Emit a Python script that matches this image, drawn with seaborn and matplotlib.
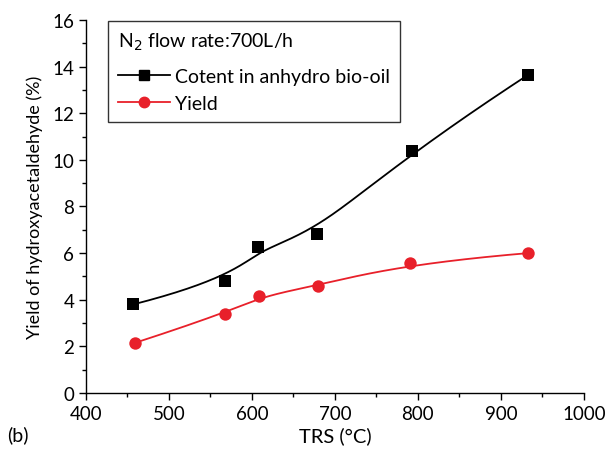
import numpy as np
import pandas as pd
import matplotlib
matplotlib.use("Agg")
import matplotlib.pyplot as plt
from matplotlib.lines import Line2D
from matplotlib.ticker import MultipleLocator
import seaborn as sns

# Data
trs_content = [457, 567, 607, 678, 793, 933]
content = [3.8, 4.8, 6.25, 6.8, 10.4, 13.65]
trs_yield = [459, 567, 608, 680, 790, 933]
yield_vals = [2.15, 3.4, 4.15, 4.6, 5.57, 6.0]

series_names = ["Cotent in anhydro bio-oil", "Yield"]
legend_title = "N$_2$ flow rate:700L/h"
xticks = [400, 500, 600, 700, 800, 900, 1000]
yticks = [0, 2, 4, 6, 8, 10, 12, 14, 16]


def bspline(xs, ys, n=300, k=3):
    """Clamped B-spline with data points as control points (Origin-style B-spline line)."""
    P = np.column_stack([xs, ys]).astype(float)
    m = len(P)
    k = min(k, m - 1)
    inner = np.linspace(0, 1, m - k + 1)
    knots = np.concatenate([[0] * k, inner, [1] * k])
    ts = np.linspace(0, 1, n)
    out = []
    for t in ts:
        if t >= 1:
            out.append(P[-1]); continue
        N = np.array([1.0 if knots[i] <= t < knots[i + 1] else 0.0 for i in range(len(knots) - 1)])
        for d in range(1, k + 1):
            Nn = np.zeros(len(knots) - 1 - d)
            for i in range(len(Nn)):
                a = 0.0
                den1 = knots[i + d] - knots[i]
                den2 = knots[i + d + 1] - knots[i + 1]
                if den1 > 0:
                    a += (t - knots[i]) / den1 * N[i]
                if den2 > 0:
                    a += (knots[i + d + 1] - t) / den2 * N[i + 1]
                Nn[i] = a
            N = Nn
        out.append(N @ P)
    out = np.array(out)
    return out[:, 0], out[:, 1]


plt.rcParams['font.family'] = ['Lato', 'DejaVu Sans']
fig = plt.figure(figsize=(6.12, 4.56), dpi=100)
ax = fig.add_axes([0.1405, 0.136, 0.8135, 0.818])

red = "#e8202a"

cx, cy = bspline(trs_content, content)
ax.plot(cx, cy, color="black", lw=1.3, zorder=2)
yx, yy = bspline(trs_yield, yield_vals)
ax.plot(yx, yy, color=red, lw=1.3, zorder=2)

df1 = pd.DataFrame({"TRS": trs_content, "v": content})
df2 = pd.DataFrame({"TRS": trs_yield, "v": yield_vals})
sns.scatterplot(data=df1, x="TRS", y="v", marker="s", s=75, color="black",
                edgecolor="black", linewidth=0, ax=ax, zorder=3)
sns.scatterplot(data=df2, x="TRS", y="v", marker="o", s=80, color=red,
                edgecolor=red, linewidth=0, ax=ax, zorder=3)

ax.set_xlim(400, 1000)
ax.set_ylim(0, 16)
ax.set_xticks(xticks)
ax.set_yticks(yticks)
ax.xaxis.set_minor_locator(MultipleLocator(50))
ax.yaxis.set_minor_locator(MultipleLocator(1))
ax.tick_params(which="major", direction="out", length=5, width=1, labelsize=13.5, colors="black")
ax.tick_params(which="minor", direction="out", length=3, width=1)
for s in ["top", "right"]:
    ax.spines[s].set_visible(False)
for s in ["left", "bottom"]:
    ax.spines[s].set_linewidth(1)
    ax.spines[s].set_color("black")

ax.set_xlabel("TRS (°C)", fontsize=14.5, labelpad=3)
ax.set_ylabel("Yield of hydroxyacetaldehyde (%)", fontsize=13, labelpad=7)
fig.text(0.012, 0.032, "(b)", fontsize=14)

handles = [
    Line2D([0], [0], color="black", lw=1.3, marker="s", markersize=7),
    Line2D([0], [0], color=red, lw=1.3, marker="o", markersize=7.5),
]
fs = 14
leg = ax.legend(handles, series_names, title=legend_title, loc="upper left",
                bbox_to_anchor=(0.044, 0.998), fontsize=fs, title_fontsize=fs,
                frameon=True, fancybox=False, edgecolor="black", handlelength=2.7,
                handletextpad=0.25, borderpad=0.5, labelspacing=0.5, borderaxespad=0)
leg._legend_box.align = "left"
leg._legend_box.sep = 0.85 * fs
leg.get_frame().set_linewidth(1)

fig.savefig("out.png", dpi=100)
